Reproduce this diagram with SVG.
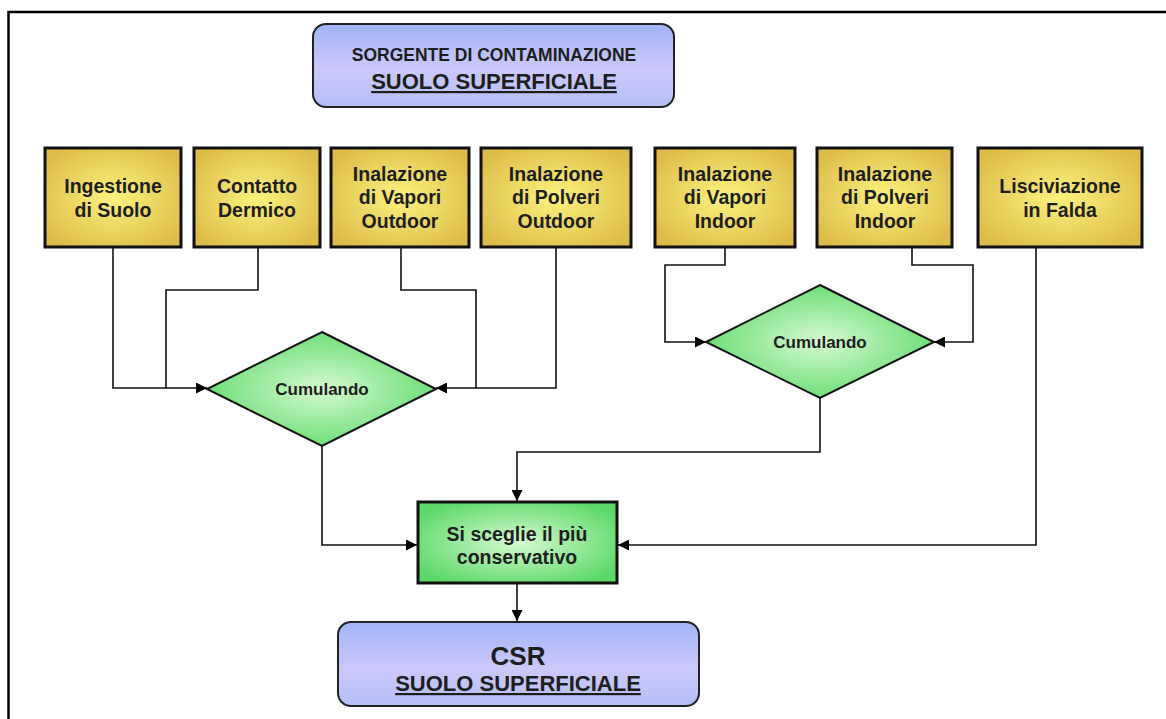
<svg xmlns="http://www.w3.org/2000/svg" width="1166" height="719" viewBox="0 0 1166 719">
<defs>
<radialGradient id="gy" cx="50%" cy="50%" r="62%">
<stop offset="0" stop-color="#fcf27e"/>
<stop offset="1" stop-color="#ddbb48"/>
</radialGradient>
<radialGradient id="gg" cx="50%" cy="50%" r="60%">
<stop offset="0" stop-color="#d6fad0"/>
<stop offset="1" stop-color="#5ad868"/>
</radialGradient>
<linearGradient id="gb" x1="0" y1="0" x2="0" y2="1">
<stop offset="0" stop-color="#9fb4f7"/>
<stop offset="0.55" stop-color="#ccc8fa"/>
<stop offset="1" stop-color="#b4c0f6"/>
</linearGradient>
<marker id="ah" viewBox="0 0 10 10" refX="10" refY="5" markerWidth="11" markerHeight="11" markerUnits="userSpaceOnUse" orient="auto">
<path d="M0,0 L10,5 L0,10 Z" fill="#000"/>
</marker>
</defs>
<style>
.y{fill:url(#gy);stroke:#111;stroke-width:3}
.g{fill:url(#gg);stroke:#111;stroke-width:2}
.gb{fill:url(#gg);stroke:#111;stroke-width:3}
.b{fill:url(#gb);stroke:#222;stroke-width:2}
.t{font-family:"Liberation Sans",Arial,sans-serif;font-weight:bold;fill:#1e1e1e;text-anchor:middle}
.m{font-size:19.5px}
.c{fill:none;stroke:#111;stroke-width:1.6}
</style>
<rect width="1166" height="719" fill="#fff"/>
<path d="M8.5,719 V12 H1166" fill="none" stroke="#000" stroke-width="2.5"/>

<g id="source">
<rect class="b" x="313" y="24" width="361" height="83" rx="13"/>
<text class="t" x="494" y="61" font-size="17.5">SORGENTE DI CONTAMINAZIONE</text>
<text class="t" x="494" y="89" font-size="22" text-decoration="underline">SUOLO SUPERFICIALE</text>
</g>

<g id="n1"><rect class="y" x="45" y="148" width="136" height="99"/>
<text class="t m" x="113" y="193">Ingestione</text><text class="t m" x="113" y="217">di Suolo</text></g>
<g id="n2"><rect class="y" x="194" y="148" width="126" height="99"/>
<text class="t m" x="257" y="193">Contatto</text><text class="t m" x="257" y="217">Dermico</text></g>
<g id="n3"><rect class="y" x="331" y="148" width="138" height="99"/>
<text class="t m" x="400" y="181">Inalazione</text><text class="t m" x="400" y="204">di Vapori</text><text class="t m" x="400" y="228">Outdoor</text></g>
<g id="n4"><rect class="y" x="481" y="148" width="150" height="99"/>
<text class="t m" x="556" y="181">Inalazione</text><text class="t m" x="556" y="204">di Polveri</text><text class="t m" x="556" y="228">Outdoor</text></g>
<g id="n5"><rect class="y" x="655" y="148" width="140" height="99"/>
<text class="t m" x="725" y="181">Inalazione</text><text class="t m" x="725" y="204">di Vapori</text><text class="t m" x="725" y="228">Indoor</text></g>
<g id="n6"><rect class="y" x="817" y="148" width="135" height="99"/>
<text class="t m" x="885" y="181">Inalazione</text><text class="t m" x="885" y="204">di Polveri</text><text class="t m" x="885" y="228">Indoor</text></g>
<g id="n7"><rect class="y" x="978" y="148" width="164" height="99"/>
<text class="t m" x="1060" y="193">Lisciviazione</text><text class="t m" x="1060" y="217">in Falda</text></g>

<g id="d1"><polygon class="g" points="322,332 436,389 322,446 207,389"/>
<text class="t" x="322" y="395" font-size="17">Cumulando</text></g>
<g id="d2"><polygon class="g" points="820,285 934,342 820,398 706,342"/>
<text class="t" x="820" y="348" font-size="17">Cumulando</text></g>

<g id="choose"><rect class="gb" x="418" y="502" width="199" height="81"/>
<text class="t m" x="517" y="541">Si sceglie il più</text><text class="t m" x="517" y="564">conservativo</text></g>

<g id="csr"><rect class="b" x="338" y="622" width="361" height="84" rx="13"/>
<text class="t" x="518" y="665" font-size="26">CSR</text>
<text class="t" x="518" y="691" font-size="22" text-decoration="underline">SUOLO SUPERFICIALE</text></g>

<g id="connectors">
<path class="c" d="M113,248 V388 H207" marker-end="url(#ah)"/>
<path class="c" d="M258,248 V290 H166 V388"/>
<path class="c" d="M401,248 V290 H476 V388 H436" marker-end="url(#ah)"/>
<path class="c" d="M556,248 V388 H476"/>
<path class="c" d="M725,248 V265 H665 V342 H706" marker-end="url(#ah)"/>
<path class="c" d="M912,248 V265 H973 V342 H934" marker-end="url(#ah)"/>
<path class="c" d="M322,446 V545 H417" marker-end="url(#ah)"/>
<path class="c" d="M820,398 V452 H517 V501" marker-end="url(#ah)"/>
<path class="c" d="M1036,248 V545 H618" marker-end="url(#ah)"/>
<path class="c" d="M517,584 V621" marker-end="url(#ah)"/>
</g>
</svg>
